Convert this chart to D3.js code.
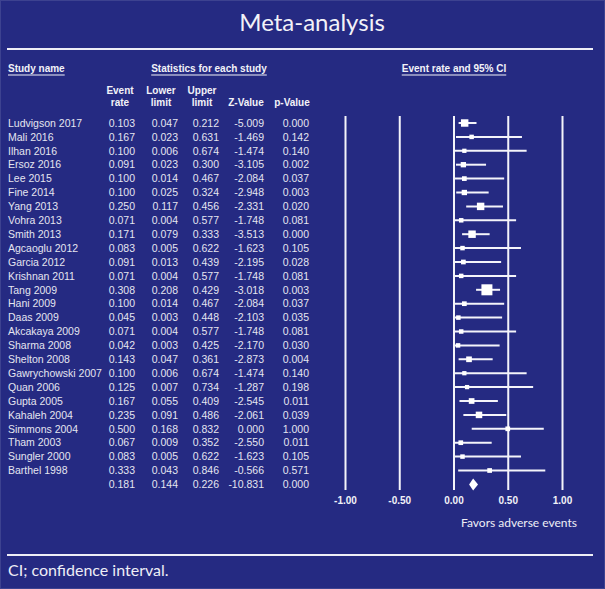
<!DOCTYPE html>
<html>
<head>
<meta charset="utf-8">
<script src="https://cdn.jsdelivr.net/npm/d3@7"></script>
<style>
  html, body { margin: 0; padding: 0; background: #252a82; }
  svg { display: block; }
</style>
</head>
<body>
<div id="main"></div>
<script>
// study rows
const studies = ['Ludvigson 2017', 'Mali 2016', 'Ilhan 2016', 'Ersoz 2016', 'Lee 2015', 'Fine 2014',
  'Yang 2013', 'Vohra 2013', 'Smith 2013', 'Agcaoglu 2012', 'Garcia 2012', 'Krishnan 2011',
  'Tang 2009', 'Hani 2009', 'Daas 2009', 'Akcakaya 2009', 'Sharma 2008', 'Shelton 2008',
  'Gawrychowski 2007', 'Quan 2006', 'Gupta 2005', 'Kahaleh 2004', 'Simmons 2004', 'Tham 2003',
  'Sungler 2000', 'Barthel 1998'];
const eventRate = [0.103, 0.167, 0.100, 0.091, 0.100, 0.100, 0.250, 0.071, 0.171, 0.083, 0.091, 0.071,
  0.308, 0.100, 0.045, 0.071, 0.042, 0.143, 0.100, 0.125, 0.167, 0.235, 0.500, 0.067, 0.083, 0.333];
const lowerLimit = [0.047, 0.023, 0.006, 0.023, 0.014, 0.025, 0.117, 0.004, 0.079, 0.005, 0.013, 0.004,
  0.208, 0.014, 0.003, 0.004, 0.003, 0.047, 0.006, 0.007, 0.055, 0.091, 0.168, 0.009, 0.005, 0.043];
const upperLimit = [0.212, 0.631, 0.674, 0.300, 0.467, 0.324, 0.456, 0.577, 0.333, 0.622, 0.439, 0.577,
  0.429, 0.467, 0.448, 0.577, 0.425, 0.361, 0.674, 0.734, 0.409, 0.486, 0.832, 0.352, 0.622, 0.846];
const zValue = [-5.009, -1.469, -1.474, -3.105, -2.084, -2.948, -2.331, -1.748, -3.513, -1.623, -2.195, -1.748,
  -3.018, -2.084, -2.103, -1.748, -2.170, -2.873, -1.474, -1.287, -2.545, -2.061, 0.000, -2.550, -1.623, -0.566];
const pValue = [0.000, 0.142, 0.140, 0.002, 0.037, 0.003, 0.020, 0.081, 0.000, 0.105, 0.028, 0.081,
  0.003, 0.037, 0.035, 0.081, 0.030, 0.004, 0.140, 0.198, 0.011, 0.039, 1.000, 0.011, 0.105, 0.571];
// relative weights
const weight = [5.5, 2, 1.8, 2.8, 2.2, 2.8, 5.5, 2, 5.5, 2, 2.2, 2, 12, 2.2, 2, 2, 2, 3.2, 1.8, 1.8,
  3.2, 4.2, 2.2, 2.2, 2, 2.2];
const summary = { rate: 0.181, lower: 0.144, upper: 0.226, z: -10.831, p: 0.000 };
const axisTicks = [-1, -0.5, 0, 0.5, 1];

const W = 605, H = 589;
const textColor = '#e4e5f0';
const tableFont = '"Liberation Sans", Arial, sans-serif';
const titleFont = 'Lato, "Open Sans", sans-serif';

const svg = d3.select('#main').append('svg')
  .attr('width', W)
  .attr('height', H);

svg.append('rect')
  .attr('x', 0.5).attr('y', 0.5)
  .attr('width', W - 1).attr('height', H - 1)
  .attr('fill', '#252a82')
  .attr('stroke', '#3d4290');

// title + rules
svg.append('text')
  .attr('x', 312).attr('y', 31)
  .attr('text-anchor', 'middle')
  .attr('font-family', titleFont)
  .attr('font-size', 24)
  .attr('fill', '#f2f2f8')
  .text('Meta-analysis');

[49, 555].forEach(function(y) {
  svg.append('line')
    .attr('x1', 7).attr('x2', 593)
    .attr('y1', y).attr('y2', y)
    .attr('stroke', '#eeeef6')
    .attr('stroke-width', 2);
});

svg.append('text')
  .attr('x', 8).attr('y', 576)
  .attr('font-family', titleFont)
  .attr('font-size', 16)
  .attr('fill', '#eeeef6')
  .text('CI; confidence interval.');

// top headers, underlined
var headers = [
  { text: 'Study name', x: 8, anchor: 'start' },
  { text: 'Statistics for each study', x: 209, anchor: 'middle' },
  { text: 'Event rate and 95% CI', x: 454, anchor: 'middle' }
];
headers.forEach(function(h) {
  var t = svg.append('text')
    .attr('x', h.x).attr('y', 72)
    .attr('text-anchor', h.anchor)
    .attr('font-family', tableFont)
    .attr('font-weight', 'bold')
    .attr('font-size', 10)
    .attr('fill', '#f2f2f8')
    .text(h.text);
  var len = t.node().getComputedTextLength();
  var x0 = h.anchor === 'middle' ? h.x - len / 2 : h.x;
  svg.append('line')
    .attr('x1', x0).attr('x2', x0 + len)
    .attr('y1', 75).attr('y2', 75)
    .attr('stroke', '#f2f2f8')
    .attr('stroke-width', 1);
});

// column headers
var cols = [
  { l1: 'Event', l2: 'rate', cx: 120, right: 135, vals: eventRate },
  { l1: 'Lower', l2: 'limit', cx: 161, right: 178, vals: lowerLimit },
  { l1: 'Upper', l2: 'limit', cx: 202, right: 219, vals: upperLimit },
  { l1: null, l2: 'Z-Value', cx: 246, right: 264, vals: zValue },
  { l1: null, l2: 'p-Value', cx: 292, right: 309, vals: pValue }
];
var sumVals = [summary.rate, summary.lower, summary.upper, summary.z, summary.p];
var fmt3 = d3.format('.3f');

var y = d3.scaleLinear()
  .domain([0, studies.length])
  .range([123, 123 + studies.length * 13.9]);

cols.forEach(function(c, ci) {
  if (c.l1) {
    svg.append('text')
      .attr('x', c.cx).attr('y', 94)
      .attr('text-anchor', 'middle')
      .attr('font-family', tableFont).attr('font-weight', 'bold').attr('font-size', 10)
      .attr('fill', '#f2f2f8')
      .text(c.l1);
  }
  svg.append('text')
    .attr('x', c.cx).attr('y', 106)
    .attr('text-anchor', 'middle')
    .attr('font-family', tableFont).attr('font-weight', 'bold').attr('font-size', 10)
    .attr('fill', '#f2f2f8')
    .text(c.l2);

  svg.append('g').selectAll('text')
    .data(c.vals.concat([sumVals[ci]]))
  .enter().append('text')
    .attr('x', c.right)
    .attr('y', (d, i) => y(i))
    .attr('dy', '0.36em')
    .attr('text-anchor', 'end')
    .attr('font-family', tableFont)
    .attr('font-size', 10.5)
    .attr('fill', textColor)
    .text((d) => fmt3(d).replace('−', '-'));
});

svg.append('g').selectAll('text')
  .data(studies)
.enter().append('text')
  .attr('x', 8)
  .attr('y', (d, i) => y(i))
  .attr('dy', '0.36em')
  .attr('font-family', tableFont)
  .attr('font-size', 10.5)
  .attr('fill', textColor)
  .text((d) => d);

// forest plot
var x = d3.scaleLinear().domain([-1, 1]).range([345, 562]);
var box = d3.scaleSqrt().domain([0, 12]).range([0, 11]);
var plotTop = 116, plotBottom = 490;

var axis = d3.axisBottom(x)
  .tickValues(axisTicks)
  .tickFormat(d3.format('.2f'))
  .tickSizeInner(-(plotBottom - plotTop))
  .tickSizeOuter(0)
  .tickPadding(7);

var ag = svg.append('g')
  .attr('transform', 'translate(0,' + plotBottom + ')')
  .call(axis);
ag.select('.domain').remove();
ag.selectAll('line').attr('stroke', '#f4f4fa').attr('stroke-width', 2);
ag.selectAll('text')
  .attr('fill', '#f2f2f8')
  .attr('font-family', tableFont)
  .attr('font-weight', 'bold')
  .attr('font-size', 10)
  .text((d) => d3.format('.2f')(d).replace('−', '-'));

var rows = studies.map(function(s, i) {
  return { name: s, rate: eventRate[i], lo: lowerLimit[i], hi: upperLimit[i], w: weight[i], i: i };
});

var g = svg.append('g');
g.selectAll('.ci')
  .data(rows)
.enter().append('line')
  .attr('class', 'ci')
  .attr('x1', (d) => x(d.lo))
  .attr('x2', (d) => x(d.hi))
  .attr('y1', (d) => y(d.i))
  .attr('y2', (d) => y(d.i))
  .attr('stroke', '#f4f4fa')
  .attr('stroke-width', 2);

g.selectAll('.box')
  .data(rows)
.enter().append('rect')
  .attr('class', 'box')
  .attr('x', (d) => x(d.rate) - box(d.w) / 2)
  .attr('y', (d) => y(d.i) - box(d.w) / 2)
  .attr('width', (d) => box(d.w))
  .attr('height', (d) => box(d.w))
  .attr('fill', '#ffffff');

// summary diamond
var sy = y(studies.length);
g.append('path')
  .attr('d', d3.line()([
    [x(summary.lower), sy],
    [x(summary.rate), sy - 6],
    [x(summary.upper), sy],
    [x(summary.rate), sy + 6]
  ]) + 'Z')
  .attr('fill', '#ffffff');

svg.append('text')
  .attr('x', 519).attr('y', 527)
  .attr('text-anchor', 'middle')
  .attr('font-family', titleFont)
  .attr('font-size', 12)
  .attr('fill', '#eeeef6')
  .text('Favors adverse events');
</script>
</body>
</html>
